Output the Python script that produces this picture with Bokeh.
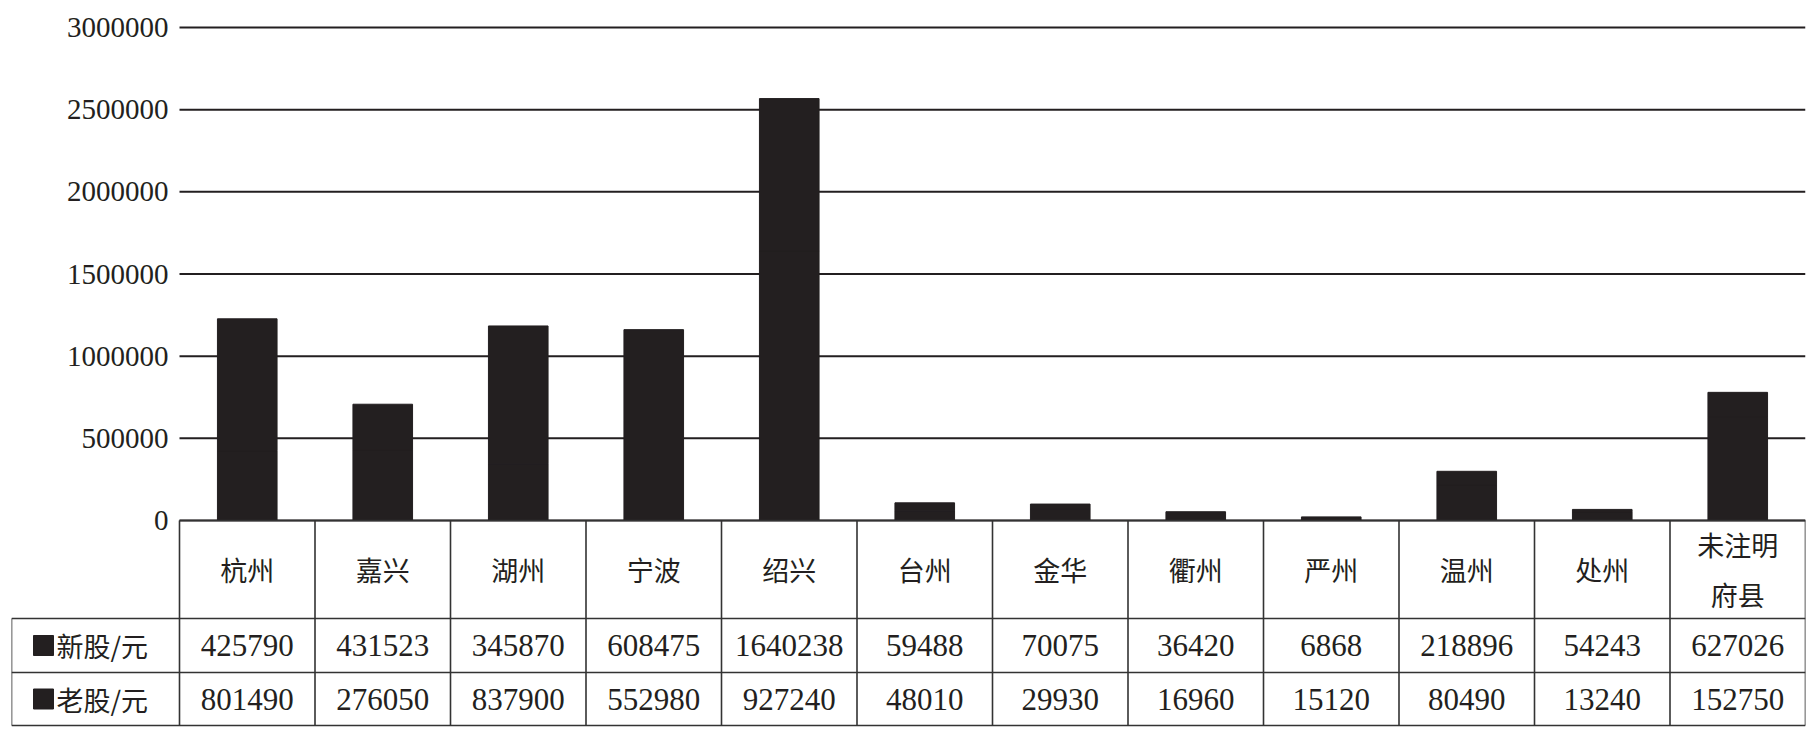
from bokeh.plotting import figure
from bokeh.models import Range1d, ColumnDataSource
from bokeh.embed import file_html
from bokeh.resources import INLINE
from bokeh.core.properties import value

# ---- data ----
cats = ["杭州", "嘉兴", "湖州", "宁波", "绍兴", "台州", "金华", "衢州", "严州", "温州", "处州", "未注明府县"]
new_shares = [425790, 431523, 345870, 608475, 1640238, 59488, 70075, 36420, 6868, 218896, 54243, 627026]
old_shares = [801490, 276050, 837900, 552980, 927240, 48010, 29930, 16960, 15120, 80490, 13240, 152750]
series_names = ["新股/元", "老股/元"]
y_ticks = [0, 500000, 1000000, 1500000, 2000000, 2500000, 3000000]
y_tick_labels = [str(v) for v in y_ticks]

INK = "#231f20"
SERIF = "Liberation Serif"
CJK = "Noto Sans CJK SC"

W, H = 1814, 736
ZERO_PX, TOP_PX = 520, 27           # pixel rows of 0 and 3000000
UNIT = 3e6 / (ZERO_PX - TOP_PX)      # value units per pixel
FRAME_L, FRAME_R = 11, 1805
n = len(cats)
COLW = (FRAME_R - 179) / n
LEG = (179 - FRAME_L) / COLW         # legend column width in column units


def ypx(px):
    """pixel row (from top) -> data y"""
    return (ZERO_PX - px) * UNIT


def xpx(px):
    return (px - 179) / COLW


p = figure(x_range=Range1d(-LEG, n), y_range=Range1d(ypx(H), ypx(0)),
           width=W, height=H, output_backend="svg", toolbar_location=None,
           x_axis_type=None, y_axis_type=None,
           min_border_left=FRAME_L, min_border_right=W - FRAME_R,
           min_border_top=0, min_border_bottom=0)
p.outline_line_color = None
p.grid.visible = False

# gridlines and tick labels
p.segment(x0=[0] * len(y_ticks), x1=[n] * len(y_ticks), y0=y_ticks, y1=y_ticks,
          line_color=INK, line_width=2)
p.text(x=[0] * len(y_ticks), y=y_ticks, text=y_tick_labels, x_offset=-11,
       text_font=value(SERIF), text_font_size="29px", text_color=INK,
       text_align="right", text_baseline="middle")

# stacked bars (both series share the same fill)
xc = [i + 0.5 for i in range(n)]
src = ColumnDataSource(dict(x=xc, new=new_shares, old=old_shares))
p.vbar_stack(["new", "old"], x="x", width=0.44, color=[INK, INK], source=src)

# ---- data table ----
H1, R1, R2 = 618, 672, 725
x0 = [0, -LEG, -LEG, -LEG, -LEG]
x1 = [n, n, n, n, -LEG]
y0 = [ypx(ZERO_PX), ypx(H1), ypx(R1), ypx(R2), ypx(H1)]
y1 = [ypx(ZERO_PX), ypx(H1), ypx(R1), ypx(R2), ypx(R2)]
for i in range(n + 1):
    x0.append(i); x1.append(i); y0.append(ypx(ZERO_PX)); y1.append(ypx(R2))
p.segment(x0=x0, y0=y0, x1=x1, y1=y1, line_color="#333333", line_width=1.6)

labels = [c if len(c) <= 2 else c[:3] + "\n" + c[3:] for c in cats]
p.text(x=xc, y=[ypx((ZERO_PX + H1) / 2)] * n, text=labels, text_font=value(CJK),
       text_font_size="27px", text_color=INK, text_align="center",
       text_baseline="middle", text_line_height=1.3)

row_y = [ypx((H1 + R1) / 2), ypx((R1 + R2) / 2)]
for vals, yy in zip([new_shares, old_shares], row_y):
    p.text(x=xc, y=[yy] * n, text=[str(v) for v in vals], text_font=value(SERIF),
           text_font_size="31px", text_color=INK, text_align="center", text_baseline="middle")

p.scatter(x=[xpx(43)] * 2, y=row_y, marker="square", size=20, fill_color=INK, line_color=INK)
p.text(x=[xpx(56)] * 2, y=row_y, text=series_names, text_font=value(CJK),
       text_font_size="27px", text_color=INK, text_align="left", text_baseline="middle")

open("out.html", "w").write(file_html(p, INLINE))
